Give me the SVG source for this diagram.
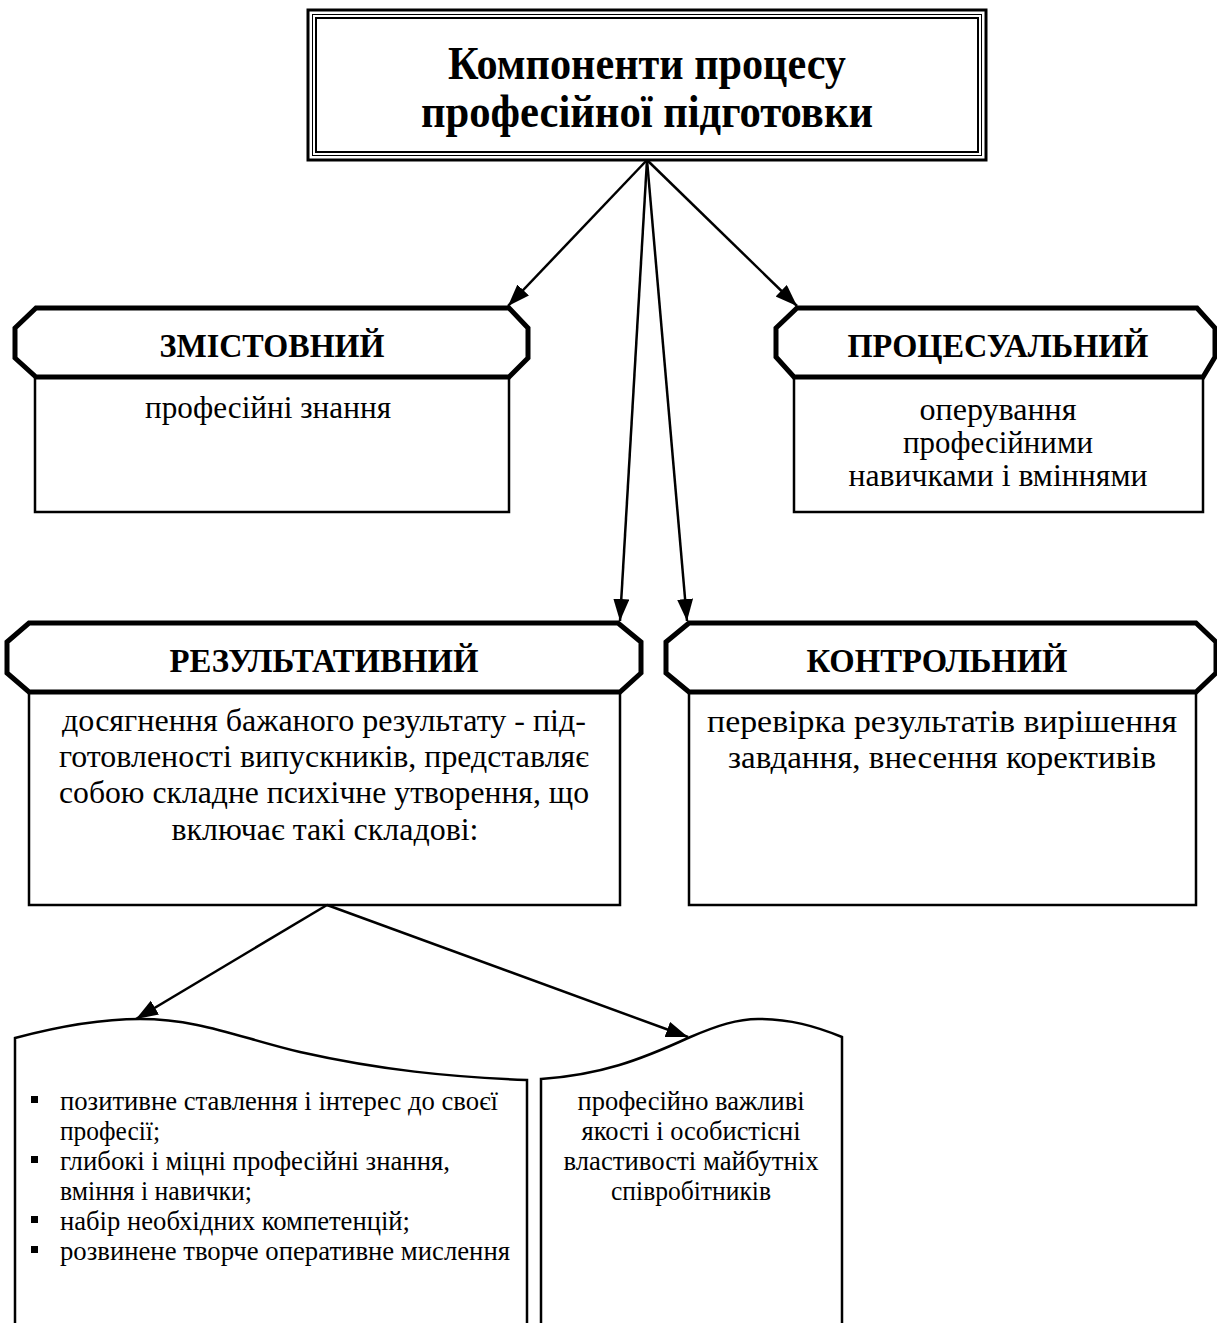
<svg xmlns="http://www.w3.org/2000/svg" width="1217" height="1323" viewBox="0 0 1217 1323">
<style>
  .t{font-family:"Liberation Serif","Times New Roman",serif;fill:#000}
  .title{font-size:46px;font-weight:bold;text-anchor:middle}
  .head{font-size:33px;font-weight:bold;text-anchor:middle}
  .body{font-size:32px;text-anchor:middle}
  .small{font-size:28px}
  .mid{text-anchor:middle}
  .hdr{fill:#fff;stroke:#000;stroke-width:5;stroke-linejoin:miter}
  .box{fill:#fff;stroke:#000;stroke-width:2.5}
  .conn{stroke:#000;stroke-width:2.5;fill:none}
</style>
<defs>
  <marker id="ah" markerUnits="userSpaceOnUse" markerWidth="24" markerHeight="18" refX="22" refY="8" orient="auto">
    <path d="M0,0 L22,8 L0,16 z" fill="#000"/>
  </marker>
</defs>
<rect width="1217" height="1323" fill="#fff"/>

<g id="title">
  <rect x="308" y="10" width="678" height="150" fill="#fff" stroke="#000" stroke-width="3"/>
  <rect x="312.5" y="14.5" width="669" height="141" fill="none" stroke="#000" stroke-width="1"/>
  <rect x="316" y="18" width="662" height="134" fill="none" stroke="#000" stroke-width="2"/>
  <text class="t title" x="647" y="79" textLength="398" lengthAdjust="spacingAndGlyphs">Компоненти процесу</text>
  <text class="t title" x="647" y="127" textLength="452" lengthAdjust="spacingAndGlyphs">професійної підготовки</text>
</g>

<g id="zmistovnyi">
  <rect class="box" x="35" y="377" width="474" height="135"/>
  <polygon class="hdr" points="36,308 509,308 528,328 528,358 509,377 36,377 15,358 15,328"/>
  <text class="t head" x="272" y="357" textLength="225" lengthAdjust="spacingAndGlyphs">ЗМІСТОВНИЙ</text>
  <text class="t body" x="268" y="418" textLength="246" lengthAdjust="spacingAndGlyphs">професійні знання</text>
</g>

<g id="protsesualnyi">
  <rect class="box" x="794" y="377" width="409" height="135"/>
  <polygon class="hdr" points="797,308 1197,308 1215,328 1215,357 1203,377 794,377 776,357 776,328"/>
  <text class="t head" x="998" y="357" textLength="301" lengthAdjust="spacingAndGlyphs">ПРОЦЕСУАЛЬНИЙ</text>
  <text class="t body" x="998" y="420" textLength="157" lengthAdjust="spacingAndGlyphs">оперування</text>
  <text class="t body" x="998" y="453" textLength="190" lengthAdjust="spacingAndGlyphs">професійними</text>
  <text class="t body" x="998" y="486" textLength="299" lengthAdjust="spacingAndGlyphs">навичками і вміннями</text>
</g>

<g id="rezultatyvnyi">
  <rect class="box" x="29" y="692" width="591" height="213"/>
  <polygon class="hdr" points="29,623 618,623 641,642 641,673 620,692 29,692 7,673 7,642"/>
  <text class="t head" x="324" y="672" textLength="309" lengthAdjust="spacingAndGlyphs">РЕЗУЛЬТАТИВНИЙ</text>
  <text class="t body" x="324" y="731" textLength="524" lengthAdjust="spacingAndGlyphs">досягнення бажаного результату - під-</text>
  <text class="t body" x="324" y="767" textLength="530" lengthAdjust="spacingAndGlyphs">готовленості випускників, представляє</text>
  <text class="t body" x="324" y="803" textLength="530" lengthAdjust="spacingAndGlyphs">собою складне психічне утворення, що</text>
  <text class="t body" x="325" y="840" textLength="307" lengthAdjust="spacingAndGlyphs">включає такі складові:</text>
</g>

<g id="kontrolnyi">
  <rect class="box" x="689" y="692" width="507" height="213"/>
  <polygon class="hdr" points="689,623 1196,623 1216,642 1216,673 1196,692 689,692 666,673 666,642"/>
  <text class="t head" x="937" y="672" textLength="261" lengthAdjust="spacingAndGlyphs">КОНТРОЛЬНИЙ</text>
  <text class="t body" x="942" y="732" textLength="470" lengthAdjust="spacingAndGlyphs">перевірка результатів вирішення</text>
  <text class="t body" x="942" y="768" textLength="428" lengthAdjust="spacingAndGlyphs">завдання, внесення корективів</text>
</g>

<g id="skladovi1">
  <path class="box" d="M15,1330 L15,1038 C 60,1026 100,1019 140,1019 C 200,1019 240,1038 300,1052 C 380,1070 450,1077 527,1080 L527,1330"/>
  <g fill="#000">
    <rect x="31" y="1096" width="7" height="7"/>
    <rect x="31" y="1156" width="7" height="7"/>
    <rect x="31" y="1216" width="7" height="7"/>
    <rect x="31" y="1246" width="7" height="7"/>
  </g>
  <text class="t small" x="60" y="1110" textLength="438" lengthAdjust="spacingAndGlyphs">позитивне ставлення і інтерес до своєї</text>
  <text class="t small" x="60" y="1140" textLength="100" lengthAdjust="spacingAndGlyphs">професії;</text>
  <text class="t small" x="60" y="1170" textLength="390" lengthAdjust="spacingAndGlyphs">глибокі і міцні професійні знання,</text>
  <text class="t small" x="60" y="1200" textLength="192" lengthAdjust="spacingAndGlyphs">вміння і навички;</text>
  <text class="t small" x="60" y="1230" textLength="350" lengthAdjust="spacingAndGlyphs">набір необхідних компетенцій;</text>
  <text class="t small" x="60" y="1260" textLength="450" lengthAdjust="spacingAndGlyphs">розвинене творче оперативне мислення</text>
</g>

<g id="skladovi2">
  <path class="box" d="M541,1330 L541,1079 C 600,1075 640,1060 688,1038 C 718,1025 738,1019 758,1019 C 790,1019 815,1026 842,1037 L842,1330"/>
  <text class="t small mid" x="691" y="1110" textLength="227" lengthAdjust="spacingAndGlyphs">професійно важливі</text>
  <text class="t small mid" x="691" y="1140" textLength="219" lengthAdjust="spacingAndGlyphs">якості і особистісні</text>
  <text class="t small mid" x="691" y="1170" textLength="255" lengthAdjust="spacingAndGlyphs">властивості майбутніх</text>
  <text class="t small mid" x="691" y="1200" textLength="160" lengthAdjust="spacingAndGlyphs">співробітників</text>
</g>

<g id="connectors">
  <line class="conn" x1="647" y1="160" x2="508" y2="306" marker-end="url(#ah)"/>
  <line class="conn" x1="647" y1="160" x2="797" y2="306" marker-end="url(#ah)"/>
  <line class="conn" x1="647" y1="160" x2="620" y2="621" marker-end="url(#ah)"/>
  <line class="conn" x1="647" y1="160" x2="687" y2="621" marker-end="url(#ah)"/>
  <line class="conn" x1="327" y1="905" x2="136" y2="1019" marker-end="url(#ah)"/>
  <line class="conn" x1="327" y1="905" x2="688" y2="1037" marker-end="url(#ah)"/>
</g>
</svg>
